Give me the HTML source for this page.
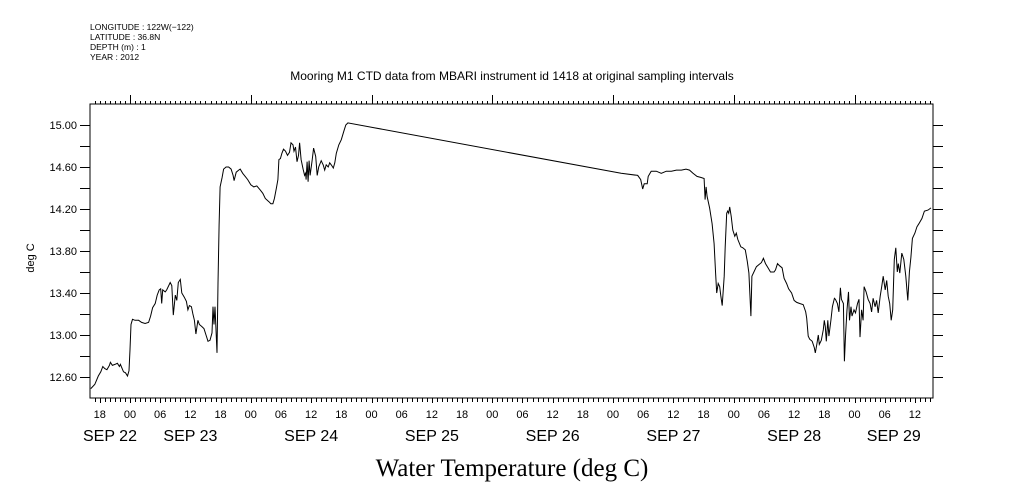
<!DOCTYPE html>
<html><head><meta charset="utf-8"><style>
body{margin:0;background:#fff;}
svg{display:block;font-family:"Liberation Sans",sans-serif;}
</style></head><body>
<svg id="chart" width="1009" height="504" viewBox="0 0 1009 504" xmlns="http://www.w3.org/2000/svg">
<rect width="1009" height="504" fill="#fff"/>
<g font-size="8.5" fill="#000">
<text x="90" y="30">LONGITUDE : 122W(−122)</text>
<text x="90" y="40">LATITUDE : 36.8N</text>
<text x="90" y="50">DEPTH (m) : 1</text>
<text x="90" y="60">YEAR : 2012</text>
</g>
<text x="512" y="80" font-size="12" text-anchor="middle">Mooring M1 CTD data from MBARI instrument id 1418 at original sampling intervals</text>
<text x="0" y="0" font-size="11" text-anchor="middle" transform="translate(34,258) rotate(-90)">deg C</text>
<text x="512" y="476" font-family="Liberation Serif, serif" font-size="25" text-anchor="middle">Water Temperature (deg C)</text>
<g id="axes"></g>
<g id="series"></g>
</svg>
<script>
// data: hours since SEP 22 00:00, temperature values
const hours = [-7.8,-7.0,-6.3,-5.8,-5.4,-5.0,-4.6,-4.1,-3.9,-3.5,-3.0,-2.5,-2.1,-1.9,-1.3,-0.9,-0.5,-0.2,0,0.2,0.5,1.0,1.7,2.3,3.0,3.7,4.1,4.5,5.0,5.4,5.8,6.1,6.3,6.5,7.0,7.3,8.0,8.3,8.6,9.0,9.3,9.6,10.0,10.3,10.8,11.2,11.5,11.8,12.2,12.5,12.8,13.1,13.5,13.8,14.3,14.7,15.1,15.5,15.9,16.3,16.5,16.7,16.9,17.1,17.3,17.5,17.7,17.9,18.3,18.6,19.1,19.6,20.1,20.5,20.7,21.1,21.6,21.9,22.4,22.9,23.4,24.0,24.6,25.2,25.9,26.4,26.9,27.6,28.0,28.4,28.7,29.1,29.4,29.6,29.9,30.2,30.5,30.9,31.3,31.7,32.0,32.4,32.6,32.9,33.2,33.5,33.7,34.0,34.4,34.7,34.9,35.0,35.2,35.4,35.6,35.8,36.2,36.5,36.9,37.2,37.5,38.0,38.4,38.7,39.0,39.4,39.7,40.0,40.4,40.7,41.0,41.5,42.0,42.5,42.9,43.3,
97.6,100.9,101.5,101.9,102.2,102.8,103.0,103.6,104.6,105.6,106.6,107.6,108.6,109.6,110.5,111.2,111.9,112.7,113.5,114.1,114.3,114.5,114.7,115.2,115.7,116.1,116.4,116.6,116.9,117.2,117.4,117.7,118.1,118.3,118.6,118.8,119.0,119.2,119.5,119.8,120.2,120.5,120.8,121.4,121.8,122.3,122.7,123.0,123.4,123.6,124.0,124.5,125.0,125.5,125.9,126.3,126.8,127.3,128.0,128.3,128.7,129.1,129.6,130.0,130.5,130.9,131.5,132.0,132.5,133.1,133.8,134.3,134.5,134.8,135.1,135.6,136.0,136.2,136.5,136.8,137.0,137.4,137.8,138.0,138.2,138.4,138.7,138.9,139.3,139.6,140.0,140.2,140.6,140.9,141.2,141.4,141.8,142.0,142.2,142.5,142.8,143.0,143.3,143.5,143.9,144.2,144.6,144.9,145.1,145.4,145.7,145.9,146.3,146.7,147.1,147.4,147.7,148.1,148.4,148.7,149.1,149.4,149.7,150.1,150.4,150.7,151.0,151.3,151.6,151.9,152.2,152.5,152.7,153.0,153.4,153.8,154.2,154.6,154.9,155.2,155.5,156.0,156.4,156.8,157.4,157.9,158.6,159.2];
const temps = [12.49,12.53,12.61,12.65,12.70,12.68,12.67,12.71,12.74,12.71,12.72,12.73,12.70,12.72,12.65,12.64,12.61,12.66,12.86,13.10,13.15,13.14,13.14,13.12,13.11,13.12,13.18,13.26,13.30,13.38,13.43,13.44,13.30,13.43,13.41,13.43,13.50,13.47,13.19,13.38,13.33,13.50,13.53,13.40,13.36,13.32,13.24,13.28,13.27,13.20,13.14,13.01,13.14,13.10,13.08,13.06,13.00,12.94,12.95,13.02,13.27,13.10,13.27,13.05,12.83,13.49,14.05,14.41,14.50,14.58,14.60,14.60,14.58,14.52,14.47,14.55,14.57,14.58,14.54,14.51,14.48,14.43,14.41,14.42,14.38,14.35,14.30,14.27,14.25,14.25,14.30,14.40,14.48,14.67,14.68,14.73,14.77,14.75,14.71,14.74,14.83,14.81,14.75,14.79,14.65,14.71,14.83,14.67,14.58,14.52,14.54,14.48,14.65,14.46,14.66,14.52,14.66,14.78,14.70,14.52,14.60,14.66,14.62,14.57,14.62,14.60,14.64,14.62,14.59,14.64,14.73,14.81,14.86,14.94,15.00,15.02,
14.54,14.52,14.48,14.39,14.44,14.44,14.51,14.56,14.56,14.54,14.56,14.56,14.57,14.57,14.58,14.57,14.54,14.51,14.50,14.49,14.29,14.41,14.32,14.21,14.06,13.87,13.59,13.40,13.49,13.46,13.38,13.28,13.56,13.84,14.16,14.18,14.16,14.22,14.13,14.00,13.94,13.97,13.91,13.84,13.83,13.81,13.70,13.59,13.18,13.56,13.60,13.65,13.67,13.69,13.73,13.68,13.64,13.60,13.60,13.62,13.68,13.66,13.64,13.54,13.49,13.44,13.40,13.33,13.31,13.30,13.29,13.22,13.16,12.99,12.96,12.94,12.88,12.83,12.91,13.00,12.91,12.95,13.05,13.14,13.08,12.94,13.14,12.99,13.14,13.27,13.35,13.34,13.30,13.22,13.45,13.34,13.30,12.75,12.99,13.24,13.41,13.14,13.27,13.18,13.24,13.21,13.30,13.34,12.98,13.24,13.14,13.46,13.41,13.34,13.30,13.22,13.35,13.27,13.33,13.21,13.37,13.46,13.56,13.43,13.52,13.37,13.30,13.14,13.24,13.72,13.83,13.60,13.68,13.59,13.78,13.72,13.56,13.33,13.60,13.74,13.92,13.97,14.03,14.06,14.11,14.18,14.19,14.21];
const yTickValues = [12.6,13.0,13.4,13.8,14.2,14.6,15.0];
const yTickLabels = ["12.60","13.00","13.40","13.80","14.20","14.60","15.00"];
const hourLabels = ["00","06","12","18"];
const dayLabels = ["SEP 22","SEP 23","SEP 24","SEP 25","SEP 26","SEP 27","SEP 28","SEP 29"];

const L=90,R=933,T=104,B=398;
const tMin=-7.95, tMax=159.6, vMin=12.4, vMax=15.2;
const xS=t=>L+(t-tMin)/(tMax-tMin)*(R-L);
const yS=v=>B-(v-vMin)/(vMax-vMin)*(B-T);
const NS="http://www.w3.org/2000/svg";
const axes=document.getElementById('axes');
function mk(tag,attrs,parent){const e=document.createElementNS(NS,tag);for(const k in attrs)e.setAttribute(k,attrs[k]);parent.appendChild(e);return e;}

const frame=mk('rect',{x:L,y:T,width:R-L,height:B-T,fill:'none',stroke:'#000','stroke-width':1},axes);



for(let v=12.4;v<=15.2001;v+=0.2){
  const y=Math.round(yS(v))+0.5;
  if(y<T+1||y>B-1)continue;
  const a=mk('line',{x1:L-10,x2:L,y1:y,y2:y,stroke:'#000'},axes);
  
  
  const b=mk('line',{x1:R,x2:R+10,y1:y,y2:y,stroke:'#000'},axes);
  
  
}
yTickValues.forEach((v,i)=>{
  const t=mk('text',{x:L-13,y:yS(v)+4,'font-size':11,'text-anchor':'end'},axes);
  t.textContent=yTickLabels[i];
  
  
});
for(let h=Math.ceil(tMin);h<=tMax;h++){
  const x=Math.round(xS(h))+0.5;
  const day=((h%24)+24)%24===0, six=((h%6)+6)%6===0;
  const a=mk('line',{x1:x,x2:x,y1:T-(day?9:3),y2:T,stroke:'#000'},axes);
  
  
  const b=mk('line',{x1:x,x2:x,y1:B,y2:B+(six?5:4),stroke:'#000'},axes);
  
  
  if(six){
    const t=mk('text',{x:xS(h),y:418,'font-size':11,'text-anchor':'middle'},axes);
    t.textContent=hourLabels[(((h/6)%4)+4)%4];
    
    
  }
}
dayLabels.forEach((d,i)=>{
  const s=Math.max((i-1)*24,tMin), e=Math.min(i*24,tMax);
  const t=mk('text',{x:(xS(s)+xS(e))/2,y:441,'font-size':16,'text-anchor':'middle'},axes);
  t.textContent=d;
  
  
});
const pts=hours.map((h,i)=>xS(h).toFixed(1)+','+yS(temps[i]).toFixed(1)).join(' ');
const line=mk('polyline',{points:pts,fill:'none',stroke:'#000','stroke-width':1},document.getElementById('series'));


</script>
</body></html>
